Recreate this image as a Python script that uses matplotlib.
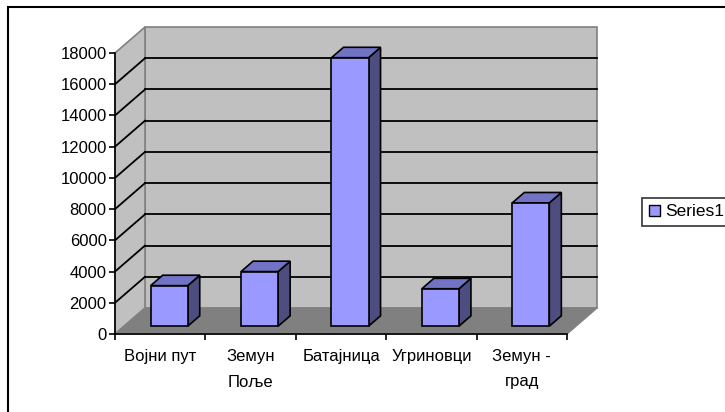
import matplotlib
matplotlib.use('Agg')
import matplotlib.pyplot as plt
from matplotlib.patches import Polygon, Rectangle, Patch

plt.rcParams['font.family'] = ['Liberation Sans', 'DejaVu Sans']

categories = ['Војни пут', 'Земун\nПоље', 'Батајница', 'Угриновци', 'Земун -\nград']
values = [2600, 3500, 17200, 2400, 7900]
series_name = 'Series1'
yticks = list(range(0, 18001, 2000))

# depth of the 3d box, in data units (category units / value units)
DX = 0.332
DY = 1665
bar_w = 0.41
f0, f1 = 0.3, 0.7

front = '#9999ff'
top = '#7373c6'
side = '#4d4d80'

fig = plt.figure(figsize=(7.25, 4.12), dpi=100)
ax = fig.add_axes([115/725, 78/412, 452/725, 281/412])
n = len(categories)
ax.set_xlim(0, n)
ax.set_ylim(0, 18000)
for s in ['top', 'right']:
    ax.spines[s].set_visible(False)
ax.patch.set_visible(False)

def poly(pts, fc, ec, lw=1, z=1):
    p = Polygon(pts, closed=True, facecolor=fc, edgecolor=ec, lw=lw, zorder=z, clip_on=False)
    ax.add_patch(p)

ymax = yticks[-1]
# walls and floor
poly([(DX, DY), (n+DX, DY), (n+DX, ymax+DY), (DX, ymax+DY)], '#c0c0c0', '#808080', 1.2, 1)
poly([(0, 0), (DX, DY), (DX, ymax+DY), (0, ymax)], '#c0c0c0', '#808080', 1.2, 1)
poly([(0, 0), (n, 0), (n+DX, DY), (DX, DY)], '#808080', '#808080', 1, 1)

for v in yticks[1:-1]:
    ax.plot([DX, n+DX], [v+DY, v+DY], color='black', lw=1.3, zorder=2, clip_on=False)
    ax.plot([0, DX], [v, v+DY], color='black', lw=1.3, zorder=2, clip_on=False)

# bars
for i, v in enumerate(values):
    x0 = i + 0.5 - bar_w/2
    x1 = x0 + bar_w
    a = (x0 + f0*DX, f0*DY)
    b = (x1 + f0*DX, f0*DY)
    c = (x1 + f1*DX, f1*DY)
    poly([b, c, (c[0], c[1]+v), (b[0], b[1]+v)], side, 'black', 1.2, 3)
    poly([(a[0], a[1]+v), (b[0], b[1]+v), (c[0], c[1]+v), (x0 + f1*DX, f1*DY+v)], top, 'black', 1.2, 3)
    poly([a, b, (b[0], b[1]+v), (a[0], a[1]+v)], front, 'black', 1.2, 4)

ax.spines['left'].set_linewidth(1.2)
ax.spines['bottom'].set_linewidth(1.2)
ax.spines['left'].set_zorder(5)
ax.spines['bottom'].set_zorder(5)
ax.set_yticks(yticks)
ax.set_yticklabels([str(t) for t in yticks])
ax.tick_params(axis='y', length=4, width=1.2, pad=2, labelsize=12)
ax.set_xticks(range(n+1))
ax.set_xticklabels([''] * (n+1))
ax.set_xticks([i + 0.5 for i in range(n)], minor=True)
ax.set_xticklabels(categories, minor=True)
ax.tick_params(axis='x', which='major', length=4, width=1.2, direction='out')
ax.tick_params(axis='x', which='minor', length=0, pad=11, labelsize=12)
for lab in ax.get_xticklabels(minor=True):
    lab.set_linespacing(1.85)

# legend
leg = fig.legend(handles=[Patch(facecolor=front, edgecolor='black', label=series_name)],
                 loc='center left', bbox_to_anchor=(642/725, 1 - 212/412),
                 frameon=True, fancybox=False, edgecolor='black', fontsize=12.5,
                 handlelength=0.65, handleheight=0.65, handletextpad=0.3,
                 borderpad=0.4, borderaxespad=0)
leg.get_frame().set_linewidth(1.2)

# outer chart border
fig.add_artist(Rectangle((7.5/725, -0.1), 1.2, 1 - 7.5/412 + 0.1, transform=fig.transFigure,
                         fill=False, edgecolor='black', lw=1.5))

fig.savefig('out.png', dpi=100)
